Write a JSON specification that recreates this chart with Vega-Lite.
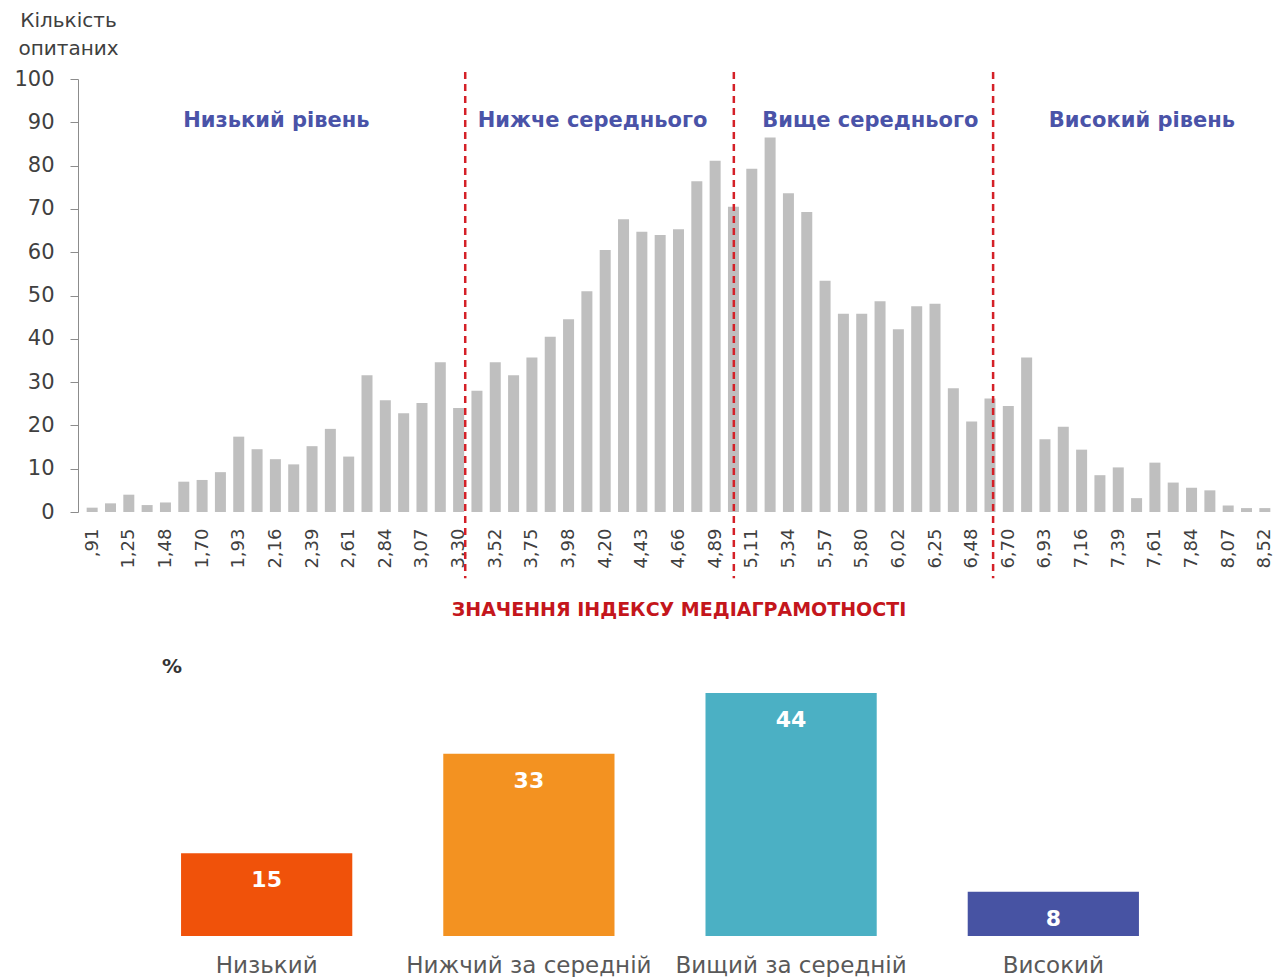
{
  "$schema": "https://vega.github.io/schema/vega-lite/v6.json",
  "padding": {"left": 13, "top": 10, "right": 0, "bottom": 0},
  "background": "white",
  "config": {"view": {"stroke": null}, "font": "DejaVu Sans", "axis": {"labelOverlap": false}},
  "spacing": 37,
  "datasets": {
    "hist": [
      {"i": 1, "n": 1}, {"i": 2, "n": 2}, {"i": 3, "n": 4}, {"i": 4, "n": 1.6}, {"i": 5, "n": 2.2},
      {"i": 6, "n": 7}, {"i": 7, "n": 7.4}, {"i": 8, "n": 9.2}, {"i": 9, "n": 17.4}, {"i": 10, "n": 14.5},
      {"i": 11, "n": 12.2}, {"i": 12, "n": 11}, {"i": 13, "n": 15.2}, {"i": 14, "n": 19.2}, {"i": 15, "n": 12.8},
      {"i": 16, "n": 31.6}, {"i": 17, "n": 25.8}, {"i": 18, "n": 22.8}, {"i": 19, "n": 25.2}, {"i": 20, "n": 34.6},
      {"i": 21, "n": 24}, {"i": 22, "n": 28}, {"i": 23, "n": 34.6}, {"i": 24, "n": 31.6}, {"i": 25, "n": 35.7},
      {"i": 26, "n": 40.5}, {"i": 27, "n": 44.5}, {"i": 28, "n": 51}, {"i": 29, "n": 60.5}, {"i": 30, "n": 67.6},
      {"i": 31, "n": 64.7}, {"i": 32, "n": 64}, {"i": 33, "n": 65.3}, {"i": 34, "n": 76.4}, {"i": 35, "n": 81.1},
      {"i": 36, "n": 70.5}, {"i": 37, "n": 79.3}, {"i": 38, "n": 86.5}, {"i": 39, "n": 73.6}, {"i": 40, "n": 69.3},
      {"i": 41, "n": 53.4}, {"i": 42, "n": 45.8}, {"i": 43, "n": 45.8}, {"i": 44, "n": 48.7}, {"i": 45, "n": 42.2},
      {"i": 46, "n": 47.5}, {"i": 47, "n": 48.1}, {"i": 48, "n": 28.6}, {"i": 49, "n": 20.9}, {"i": 50, "n": 26.2},
      {"i": 51, "n": 24.5}, {"i": 52, "n": 35.7}, {"i": 53, "n": 16.8}, {"i": 54, "n": 19.7}, {"i": 55, "n": 14.4},
      {"i": 56, "n": 8.5}, {"i": 57, "n": 10.3}, {"i": 58, "n": 3.2}, {"i": 59, "n": 11.4}, {"i": 60, "n": 6.8},
      {"i": 61, "n": 5.6}, {"i": 62, "n": 5}, {"i": 63, "n": 1.5}, {"i": 64, "n": 0.9}, {"i": 65, "n": 0.9}
    ],
    "splits": [{"b": 21.36}, {"b": 36.02}, {"b": 50.17}],
    "regions": [
      {"x": 11.05, "label": "Низький рівень"},
      {"x": 28.31, "label": "Нижче середнього"},
      {"x": 43.47, "label": "Вище середнього"},
      {"x": 58.29, "label": "Високий рівень"}
    ],
    "levels": [
      {"level": "Низький", "pct": 15},
      {"level": "Нижчий за середній", "pct": 33},
      {"level": "Вищий за середній", "pct": 44},
      {"level": "Високий", "pct": 8}
    ]
  },
  "vconcat": [
    {
      "width": 1201,
      "height": 433,
      "layer": [
        {
          "data": {"name": "hist"},
          "mark": {"type": "bar", "width": 11, "color": "#bfbfbf"},
          "encoding": {
            "x": {
              "field": "i", "type": "quantitative",
              "scale": {"domain": [0.5, 65.5], "nice": false, "zero": false},
              "axis": {
                "values": [1,3,5,7,9,11,13,15,17,19,21,23,25,27,29,31,33,35,37,39,41,43,45,47,49,51,53,55,57,59,61,63,65],
                "tickCount": 100,
                "labelExpr": "[',91','1,25','1,48','1,70','1,93','2,16','2,39','2,61','2,84','3,07','3,30','3,52','3,75','3,98','4,20','4,43','4,66','4,89','5,11','5,34','5,57','5,80','6,02','6,25','6,48','6,70','6,93','7,16','7,39','7,61','7,84','8,07','8,52'][round((datum.value - 1) / 2)]",
                "labelAngle": -90, "labelAlign": "right", "labelBaseline": "middle",
                "labelFontSize": 18, "labelColor": "#404040", "labelPadding": 16,
                "labelOverlap": false, "labelFlush": false, "labelSeparation": 0,
                "domain": false, "ticks": false, "grid": false,
                "title": "ЗНАЧЕННЯ ІНДЕКСУ МЕДІАГРАМОТНОСТІ",
                "titleFontSize": 19, "titleFontWeight": "bold", "titleColor": "#c4161c", "titlePadding": 32
              }
            },
            "y": {
              "field": "n", "type": "quantitative",
              "scale": {"domain": [0, 100], "nice": false},
              "axis": {
                "values": [0,10,20,30,40,50,60,70,80,90,100],
                "grid": false, "domainColor": "#8c8c8c", "tickColor": "#8c8c8c", "tickSize": 8,
                "labelFontSize": 21, "labelColor": "#404040", "labelPadding": 16,
                "title": ["Кількість", "опитаних"], "titleAngle": 0, "titleAlign": "center",
                "titleBaseline": "top", "titleX": -10, "titleY": -69, "titleLineHeight": 28,
                "titleFontSize": 20, "titleFontWeight": "normal", "titleColor": "#404040"
              }
            }
          }
        },
        {
          "data": {"name": "splits"},
          "mark": {"type": "rule", "color": "#d42027", "strokeWidth": 2.5, "strokeDash": [7, 5]},
          "encoding": {
            "x": {"field": "b", "type": "quantitative"},
            "y": {"datum": 101.6},
            "y2": {"datum": -15.3}
          }
        },
        {
          "data": {"name": "regions"},
          "mark": {"type": "text", "fontWeight": "bold", "fontSize": 21, "color": "#4a53a8", "baseline": "middle"},
          "encoding": {
            "x": {"field": "x", "type": "quantitative"},
            "y": {"datum": 90.4},
            "text": {"field": "label"}
          }
        }
      ]
    },
    {
      "width": 1164,
      "height": 254,
      "data": {"name": "levels"},
      "title": {"text": "%", "anchor": "start", "dx": 84, "fontSize": 20, "fontWeight": "bold", "color": "#333333", "offset": 5},
      "encoding": {
        "x": {
          "field": "level", "type": "nominal", "sort": null,
          "scale": {"paddingInner": 0.347, "paddingOuter": 0.393},
          "axis": {"title": null, "labelAngle": 0, "domain": false, "ticks": false, "labelFontSize": 23, "labelColor": "#595959", "labelPadding": 18, "labelLimit": 0}
        }
      },
      "layer": [
        {
          "mark": {"type": "bar"},
          "encoding": {
            "y": {"field": "pct", "type": "quantitative", "scale": {"domain": [0, 46], "nice": false}, "axis": null},
            "color": {
              "field": "level", "type": "nominal", "sort": null,
              "scale": {"domain": ["Низький", "Нижчий за середній", "Вищий за середній", "Високий"], "range": ["#f0520a", "#f39221", "#4bb0c4", "#4753a3"]},
              "legend": null
            }
          }
        },
        {
          "mark": {"type": "text", "dy": 27, "color": "white", "fontWeight": "bold", "fontSize": 22, "baseline": "middle"},
          "encoding": {
            "y": {"field": "pct", "type": "quantitative"},
            "text": {"field": "pct"}
          }
        }
      ]
    }
  ]
}
